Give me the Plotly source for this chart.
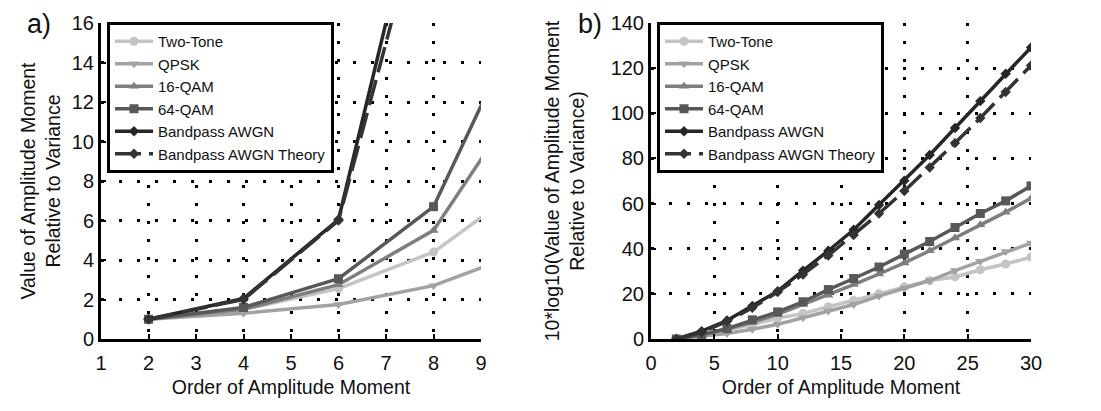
import plotly.graph_objects as go

# ---------------- data ----------------
orders_a = [2, 4, 6, 8, 10]
two_tone_a = [1.0, 1.5, 2.55, 4.4, 7.9]
qpsk_a = [1.0, 1.3, 1.75, 2.7, 4.5]
qam16_a = [1.0, 1.5, 2.75, 5.5, 12.7]
qam64_a = [1.0, 1.6, 3.05, 6.7, 16.9]
awgn_a = [1.0, 2.05, 6.05, 26.0, 125.0]
awgn_theory_a = [1.0, 2.0, 6.0, 24.0, 120.0]

orders_b = [2, 4, 6, 8, 10, 12, 14, 16, 18, 20, 22, 24, 26, 28, 30]
two_tone_b = [0, 1.8, 4.0, 6.4, 9.2, 11.3, 14.3, 17.1, 20.0, 23.1, 25.9, 27.5, 30.7, 33.2, 36.3]
qpsk_b = [0, 1.2, 2.4, 4.3, 6.5, 9.4, 12.4, 15.3, 19.0, 22.6, 25.9, 30.3, 34.4, 38.8, 42.5]
qam16_b = [0, 1.8, 4.4, 7.4, 10.9, 15.3, 19.4, 24.1, 28.8, 33.7, 39.1, 44.7, 50.6, 56.2, 62.3]
qam64_b = [0, 2.0, 4.6, 8.5, 12.0, 16.5, 21.9, 26.8, 31.9, 37.6, 43.2, 49.4, 55.6, 61.2, 67.8]
awgn_b = [0, 3.5, 8.2, 14.6, 21.2, 30.3, 39.1, 48.4, 59.4, 70.1, 81.5, 93.5, 105.4, 117.5, 129.2]
awgn_theory_b = [0, 3.0, 7.8, 13.8, 20.8, 28.6, 37.0, 46.1, 55.6, 65.6, 76.0, 86.8, 97.9, 109.4, 121.2]

names = ["Two-Tone", "QPSK", "16-QAM", "64-QAM", "Bandpass AWGN", "Bandpass AWGN Theory"]
colors = ["#c4c4c4", "#a2a2a2", "#7e7e7e", "#585858", "#262626", "#333333"]
symbols = ["circle", "triangle-down", "triangle-up", "square", "diamond", "diamond"]
msizes = [9, 9, 9, 9, 8, 8]
dashes = ["solid", "solid", "solid", "solid", "solid", "26px,8px"]

series_a = [two_tone_a, qpsk_a, qam16_a, qam64_a, awgn_a, awgn_theory_a]
series_b = [two_tone_b, qpsk_b, qam16_b, qam64_b, awgn_b, awgn_theory_b]

FONT = "Liberation Sans, Arial, sans-serif"

fig = go.Figure()
for i, name in enumerate(names):
    fig.add_trace(go.Scatter(
        x=orders_a, y=series_a[i], name=name, mode="lines+markers",
        line=dict(color=colors[i], width=3.5, dash=dashes[i]),
        marker=dict(symbol=symbols[i], size=msizes[i], color=colors[i]),
        xaxis="x", yaxis="y", legend="legend", cliponaxis=True))
for i, name in enumerate(names):
    fig.add_trace(go.Scatter(
        x=orders_b, y=series_b[i], name=name, mode="lines+markers",
        line=dict(color=colors[i], width=3.5, dash=dashes[i]),
        marker=dict(symbol=symbols[i], size=msizes[i], color=colors[i]),
        xaxis="x2", yaxis="y2", legend="legend2", cliponaxis=True))

axis_common = dict(
    showline=True, linewidth=3, linecolor="black", mirror=False,
    ticks="inside", ticklen=5, tickwidth=2, tickcolor="black",
    showgrid=True, gridcolor="black", gridwidth=3, griddash="3px,15px",
    zeroline=False, automargin=False,
    tickfont=dict(family=FONT, size=20, color="#111"),
)
ydom = [1 - 339 / 411, 1 - 23 / 411]
title_font = dict(family=FONT, size=19.5, color="#111")

fig.update_layout(
    width=1101, height=411,
    margin=dict(l=0, r=0, t=0, b=0, autoexpand=False),
    paper_bgcolor="white", plot_bgcolor="white",
    font=dict(family=FONT, color="#111"),
    xaxis=dict(axis_common, domain=[101 / 1101, 481 / 1101], range=[1, 9],
               tickvals=[1, 2, 3, 4, 5, 6, 7, 8, 9], anchor="y", ticklabelstandoff=4,
               title=dict(text="Order of Amplitude Moment", font=title_font, standoff=8)),
    yaxis=dict(axis_common, domain=ydom, range=[0, 16],
               tickvals=[0, 2, 4, 6, 8, 10, 12, 14, 16], anchor="x",
               title=dict(text="Value of Amplitude Moment<br>Relative to Variance",
                          font=title_font, standoff=6)),
    xaxis2=dict(axis_common, domain=[651 / 1101, 1031 / 1101], range=[0, 30],
                tickvals=[0, 5, 10, 15, 20, 25, 30], anchor="y2", ticklabelstandoff=4,
                title=dict(text="Order of Amplitude Moment", font=title_font, standoff=8)),
    yaxis2=dict(axis_common, domain=ydom, range=[0, 140],
                tickvals=[0, 20, 40, 60, 80, 100, 120, 140], anchor="x2",
                title=dict(text="10*log10(Value of Amplitude Moment<br>Relative to Variance)",
                           font=title_font, standoff=21)),
    legend=dict(x=107 / 1101, y=1 - 22 / 411, xanchor="left", yanchor="top",
                bgcolor="white", bordercolor="black", borderwidth=3,
                font=dict(family=FONT, size=15, color="#111"), itemwidth=38,
                tracegroupgap=0),
    legend2=dict(x=657 / 1101, y=1 - 22 / 411, xanchor="left", yanchor="top",
                 bgcolor="white", bordercolor="black", borderwidth=3,
                 font=dict(family=FONT, size=15, color="#111"), itemwidth=38,
                 tracegroupgap=0),
    showlegend=True,
    annotations=[
        dict(text="a)", x=39 / 1101, y=1 - 24 / 411, xref="paper", yref="paper",
             xanchor="center", yanchor="middle",
             showarrow=False, font=dict(family=FONT, size=27, color="#111")),
        dict(text="b)", x=590 / 1101, y=1 - 24 / 411, xref="paper", yref="paper",
             xanchor="center", yanchor="middle",
             showarrow=False, font=dict(family=FONT, size=27, color="#111")),
    ],
)

fig.write_html("out.html")
